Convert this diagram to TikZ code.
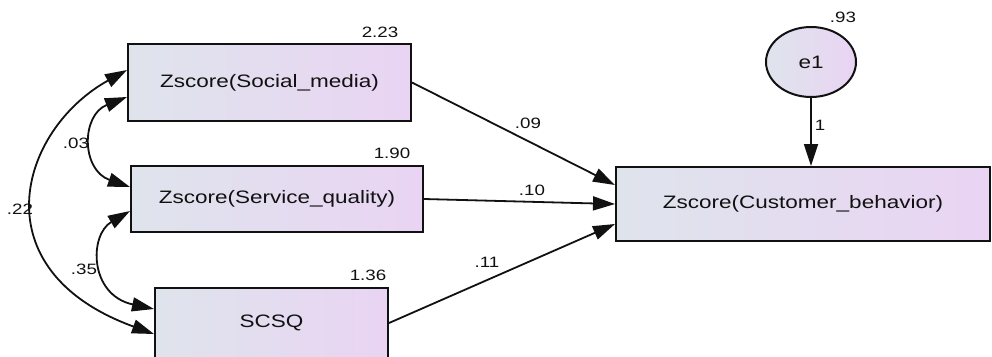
\documentclass[tikz,border=0pt]{standalone}
\usepackage{fontspec}
\setmainfont[FakeStretch=1.25]{Liberation Sans}
\usetikzlibrary{arrows.meta,shapes.geometric}
\definecolor{boxL}{HTML}{DFE4EC}
\definecolor{boxR}{HTML}{E9D4F3}
\definecolor{ink}{HTML}{111111}
\begin{document}
\begin{tikzpicture}[x=1pt,y=-1pt,
  var/.style={draw=ink, line width=2pt, left color=boxL, right color=boxR, font=\fontsize{18}{20}\selectfont, text=ink, inner sep=0pt},
  lab/.style={font=\fontsize{15}{17}\selectfont, text=ink, inner sep=0pt},
  regpath/.style={line width=1.8pt, draw=ink, -{Triangle[length=22pt,width=14pt]}},
  covpath/.style={line width=1.8pt, draw=ink, {Triangle[length=22pt,width=14pt]}-{Triangle[length=22pt,width=14pt]}}]
\useasboundingbox (0,0) rectangle (992,356);
\clip (0,0) rectangle (992,356);
\fill[white] (0,0) rectangle (992,356);
% variables
\node[var, minimum width=283pt, minimum height=77pt] (sm) at (269.5,82.5) {Zscore(Social\_media)};
\node[var, minimum width=292pt, minimum height=66pt] (sq) at (277,199) {Zscore(Service\_quality)};
\node[var, minimum width=233pt, minimum height=70pt] (sc) at (271.5,323) {SCSQ};
\node[var, minimum width=374pt, minimum height=74pt] (cb) at (803,204) {Zscore(Customer\_behavior)};
\node[var, ellipse, minimum width=90pt, minimum height=70pt] (e1) at (811,62) {e1};
% regression paths
\draw[regpath] (sm.east) -- ([yshift=19pt]cb.west);
\draw[regpath] (sq.east) -- (cb.west);
\draw[regpath] (sc.east) -- ([yshift=-20pt]cb.west);
\draw[regpath] (e1.south) -- (e1.south |- cb.north);
% covariances
\draw[covpath] ([yshift=12.5pt]sm.west) .. controls +(-108,60) and +(-176,-64) .. ([yshift=-11pt]sc.west);
\draw[covpath] ([yshift=-14.5pt]sm.west) .. controls +(-46,18) and +(-49,-17) .. ([yshift=12pt]sq.west);
\draw[covpath] ([yshift=-12pt]sq.west) .. controls +(-41,24) and +(-65,-14) .. ([yshift=14pt]sc.west);
% labels
\node[lab] (l22) at (20,209) {.22};
\node[lab] (l03) at (76,143) {.03};
\node[lab] (l35) at (84,269) {.35};
\node[lab] (l09) at (528,123) {.09};
\node[lab] (l10) at (532,190) {.10};
\node[lab] (l11) at (487,262) {.11};
\node[lab] (v1) at (380,32) {2.23};
\node[lab] (v2) at (392,153) {1.90};
\node[lab] (v3) at (368,275) {1.36};
\node[lab] (v4) at (843,17) {.93};
\node[lab] (w1) at (820,125) {1};
\end{tikzpicture}
\end{document}
